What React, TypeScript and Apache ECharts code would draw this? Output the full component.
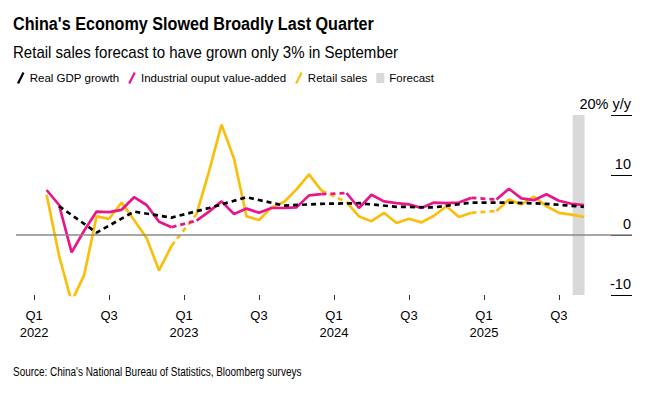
import React, { useEffect, useRef } from "react";
import * as echarts from "echarts";

// Month index: 0 = Jan 2022. Monthly series start Feb 2022 (index 1).
const firstMonth = 1;
const industrialOutput: (number | null)[] = [
  7.5, 5.0, -2.9, 0.7, 3.9, 3.8, 4.2, 6.3, 5.0, 2.2, 1.3,
  null, 2.4, 3.9, 5.6, 3.5, 4.4, 3.7, 4.5, 4.5, 4.6, 6.6, 6.8,
  null, 7.0, 4.5, 6.7, 5.6, 5.3, 5.1, 4.5, 5.4, 5.3, 5.4, 6.2,
  null, 5.9, 7.7, 6.1, 5.8, 6.8, 5.7, 5.2, 5.0,
];
const retailSales: (number | null)[] = [
  6.7, -3.5, -11.1, -6.7, 3.1, 2.7, 5.4, 2.5, -0.5, -5.9, -1.8,
  null, 3.5, 10.6, 18.4, 12.7, 3.1, 2.5, 4.6, 5.5, 7.6, 10.1, 7.4,
  null, 5.5, 3.1, 2.3, 3.7, 2.0, 2.7, 2.1, 3.2, 4.8, 3.0, 3.7,
  null, 4.0, 5.9, 5.1, 6.4, 4.8, 3.7, 3.4, 3.0,
];
// Quarterly GDP, Q1 2022 .. Q3 2025 (plotted at quarter-end month)
const firstQuarterMonth = 2;
const gdpGrowth: number[] = [4.8, 0.4, 3.9, 2.9, 4.5, 6.3, 4.9, 5.2, 5.3, 4.7, 4.6, 5.4, 5.4, 5.2, 4.7];
const forecastPeriod: [number, number] = [43.1, 44.05];
const xTickMonths = [0, 6, 12, 18, 24, 30, 36, 42];

const TITLE = "China's Economy Slowed Broadly Last Quarter";
const SUBTITLE = "Retail sales forecast to have grown only 3% in September";
const SOURCE = "Source: China's National Bureau of Statistics, Bloomberg surveys";

const FONT = "Liberation Sans, Arial, sans-serif";
const PINK = "#e8168a";
const YELLOW = "#fabf0d";

function toPoints(vals: (number | null)[]) {
  return vals.map((v, i) => [firstMonth + i, v]);
}
function gapSegments(vals: (number | null)[]) {
  const segs: number[][][] = [];
  vals.forEach((v, i) => {
    if (v === null && i > 0 && i < vals.length - 1) {
      segs.push([
        [firstMonth + i - 1, vals[i - 1] as number],
        [firstMonth + i + 1, vals[i + 1] as number],
      ]);
    }
  });
  return segs;
}

export default function App() {
  const ref = useRef<HTMLDivElement>(null);
  useEffect(() => {
    if (!ref.current) return;
    const chart = echarts.init(ref.current, null, { renderer: "svg" });
    const slash = "path://M0,14 L7,0 L9.5,1.2 L2.5,15.2 Z";
    const series: any[] = [
      {
        name: "Forecast",
        type: "line",
        data: [],
        color: "#d9d9d9",
        z: 1,
        markArea: {
          silent: true,
          itemStyle: { color: "#d9d9d9" },
          data: [[{ xAxis: forecastPeriod[0] }, { xAxis: forecastPeriod[1] }]],
        },
        markLine: {
          silent: true,
          symbol: "none",
          label: { show: false },
          lineStyle: { color: "#8a8a8a", width: 1.5, type: "solid" },
          data: [{ yAxis: 0 }],
        },
      },
    ];
    const addMonthly = (name: string, vals: (number | null)[], color: string) => {
      series.push({
        name,
        type: "line",
        data: toPoints(vals),
        color,
        showSymbol: false,
        connectNulls: false,
        z: 3,
        lineStyle: { color, width: 2.7 },
      });
      gapSegments(vals).forEach((seg, k) => {
        series.push({
          name: name + " gap " + k,
          type: "line",
          data: seg,
          color,
          showSymbol: false,
          z: 3,
          lineStyle: { color, width: 2.7, type: [5, 4] },
        });
      });
    };
    addMonthly("Retail sales", retailSales, YELLOW);
    addMonthly("Industrial ouput value-added", industrialOutput, PINK);
    series.push({
      name: "Real GDP growth",
      type: "line",
      data: gdpGrowth.map((v, i) => [firstQuarterMonth + 3 * i, v]),
      color: "#000",
      showSymbol: false,
      z: 4,
      lineStyle: { color: "#000", width: 2.7, type: [5, 4] },
    });

    chart.setOption({
      animation: false,
      textStyle: { fontFamily: FONT },
      graphic: [
        {
          type: "text",
          x: 13,
          y: 23.5,
          scaleX: 0.85,
          style: {
            text: TITLE,
            fontFamily: FONT,
            fontSize: 19,
            fontWeight: "bold",
            fill: "#000",
            verticalAlign: "middle",
          },
        },
        {
          type: "text",
          x: 13,
          y: 52.5,
          scaleX: 0.94,
          style: {
            text: SUBTITLE,
            fontFamily: FONT,
            fontSize: 16,
            fill: "#000",
            verticalAlign: "middle",
          },
        },
        {
          type: "text",
          x: 13,
          y: 371.5,
          scaleX: 0.83,
          style: {
            text: SOURCE,
            fontFamily: FONT,
            fontSize: 12,
            fill: "#000",
            verticalAlign: "middle",
          },
        },
      ],
      legend: {
        left: 12,
        top: 67,
        itemWidth: 8,
        itemHeight: 12,
        itemGap: 9,
        symbolKeepAspect: true,
        textStyle: { fontFamily: FONT, fontSize: 11.5, color: "#000" },
        data: [
          { name: "Real GDP growth", icon: slash },
          { name: "Industrial ouput value-added", icon: slash },
          { name: "Retail sales", icon: slash },
          { name: "Forecast", icon: "path://M0,0 L8,0 L8,10 L0,10 Z" },
        ],
      },
      grid: { left: 16, right: 21, top: 115, bottom: 99 },
      xAxis: {
        type: "value",
        min: -1.45,
        max: 47.85,
        splitLine: { show: false },
        axisLine: { show: false, onZero: false },
        axisTick: {
          show: true,
          length: 5,
          lineStyle: { color: "#333", width: 1 },
          customValues: xTickMonths,
        },
        axisLabel: {
          customValues: xTickMonths,
          margin: 12,
          fontFamily: FONT,
          fontSize: 13,
          lineHeight: 17,
          color: "#000",
          formatter: (v: number) => {
            const m = Math.round(v);
            const year = 2022 + Math.floor(m / 12);
            return m % 12 === 0 ? "Q1\n" + year : "Q3";
          },
        },
      },
      yAxis: {
        type: "value",
        position: "right",
        offset: -21,
        min: -10,
        max: 20,
        interval: 10,
        splitLine: { show: false },
        axisLine: { show: false, onZero: false },
        axisTick: {
          show: true,
          inside: false,
          length: 21,
          lineStyle: { color: "#000", width: 1 },
        },
        axisLabel: {
          inside: false,
          margin: 20,
          align: "right",
          verticalAlign: "bottom",
          padding: [0, 0, 4, 0],
          fontFamily: FONT,
          fontSize: 14.5,
          color: "#000",
          formatter: (v: number) => (v === 20 ? "20% y/y" : String(v)),
        },
      },
      series,
    });
    return () => chart.dispose();
  }, []);
  return <div ref={ref} style={{ width: 653, height: 394, position: "absolute", left: 0, top: 0 }} />;
}
